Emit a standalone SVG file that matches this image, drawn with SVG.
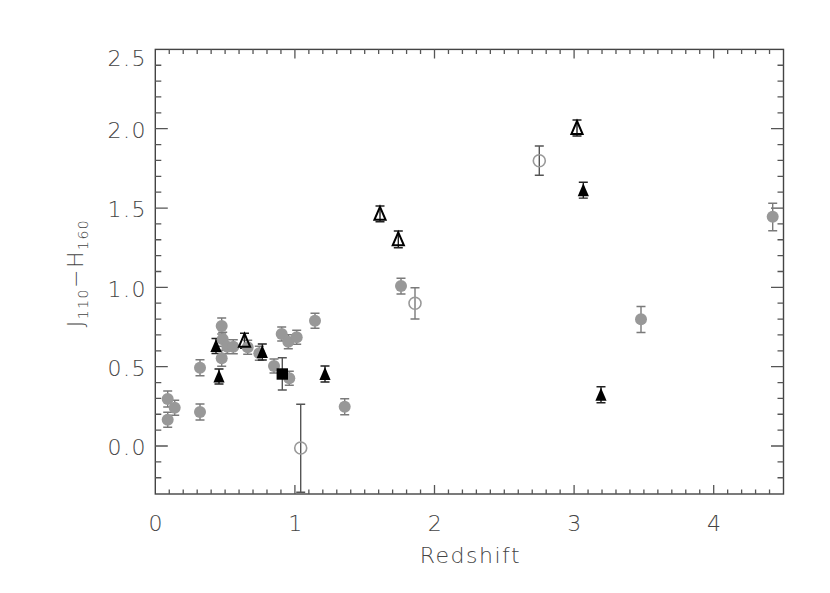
<svg xmlns="http://www.w3.org/2000/svg" width="830" height="593" viewBox="0 0 830 593">
<style>
.ax{fill:none;stroke:#444;stroke-width:1.4}
.tk{fill:none;stroke:#555;stroke-width:1.3}
.lbl{font-family:"DejaVu Sans","Liberation Sans",sans-serif;font-weight:200;font-size:22px;fill:#444;letter-spacing:1.5px}
.eg{fill:none;stroke:#7a7a7a;stroke-width:1.4}
.ek{fill:none;stroke:#222;stroke-width:1.4}
.ed{fill:none;stroke:#555;stroke-width:1.4}
.gc{fill:#989898}
.oc{fill:none;stroke:#999;stroke-width:1.6}
.bt{fill:#000}
.ot{fill:none;stroke:#000;stroke-width:2}
.sq{fill:#000}
</style>
<defs>
<path id="tri" d="M0,-7 L5.6,6 L-5.6,6 Z"/>
</defs>
<rect width="830" height="593" fill="#fff"/>
<g id="axes">
<rect class="ax" x="155.3" y="49.4" width="628.2" height="444.6"/>
<path class="tk" d="M169.26,494v-4.5M183.22,494v-4.5M197.18,494v-4.5M211.14,494v-4.5M225.1,494v-4.5M239.06,494v-4.5M253.02,494v-4.5M266.98,494v-4.5M280.94,494v-4.5M294.9,494v-9M308.86,494v-4.5M322.82,494v-4.5M336.78,494v-4.5M350.74,494v-4.5M364.7,494v-4.5M378.66,494v-4.5M392.62,494v-4.5M406.58,494v-4.5M420.54,494v-4.5M434.5,494v-9M448.46,494v-4.5M462.42,494v-4.5M476.38,494v-4.5M490.34,494v-4.5M504.3,494v-4.5M518.26,494v-4.5M532.22,494v-4.5M546.18,494v-4.5M560.14,494v-4.5M574.1,494v-9M588.06,494v-4.5M602.02,494v-4.5M615.98,494v-4.5M629.94,494v-4.5M643.9,494v-4.5M657.86,494v-4.5M671.82,494v-4.5M685.78,494v-4.5M699.74,494v-4.5M713.7,494v-9M727.66,494v-4.5M741.62,494v-4.5M755.58,494v-4.5M769.54,494v-4.5"/>
<path class="tk" d="M169.26,49.4v4.5M183.22,49.4v4.5M197.18,49.4v4.5M211.14,49.4v4.5M225.1,49.4v4.5M239.06,49.4v4.5M253.02,49.4v4.5M266.98,49.4v4.5M280.94,49.4v4.5M294.9,49.4v9M308.86,49.4v4.5M322.82,49.4v4.5M336.78,49.4v4.5M350.74,49.4v4.5M364.7,49.4v4.5M378.66,49.4v4.5M392.62,49.4v4.5M406.58,49.4v4.5M420.54,49.4v4.5M434.5,49.4v9M448.46,49.4v4.5M462.42,49.4v4.5M476.38,49.4v4.5M490.34,49.4v4.5M504.3,49.4v4.5M518.26,49.4v4.5M532.22,49.4v4.5M546.18,49.4v4.5M560.14,49.4v4.5M574.1,49.4v9M588.06,49.4v4.5M602.02,49.4v4.5M615.98,49.4v4.5M629.94,49.4v4.5M643.9,49.4v4.5M657.86,49.4v4.5M671.82,49.4v4.5M685.78,49.4v4.5M699.74,49.4v4.5M713.7,49.4v9M727.66,49.4v4.5M741.62,49.4v4.5M755.58,49.4v4.5M769.54,49.4v4.5"/>
<path class="tk" d="M155.3,477.73h6M155.3,461.87h6M155.3,446h12.5M155.3,430.14h6M155.3,414.27h6M155.3,398.41h6M155.3,382.54h6M155.3,366.68h12.5M155.3,350.81h6M155.3,334.95h6M155.3,319.08h6M155.3,303.22h6M155.3,287.35h12.5M155.3,271.49h6M155.3,255.62h6M155.3,239.76h6M155.3,223.89h6M155.3,208.03h12.5M155.3,192.16h6M155.3,176.3h6M155.3,160.43h6M155.3,144.57h6M155.3,128.7h12.5M155.3,112.84h6M155.3,96.97h6M155.3,81.11h6M155.3,65.24h6"/>
<path class="tk" d="M783.5,477.73h-6M783.5,461.87h-6M783.5,446h-12.5M783.5,430.14h-6M783.5,414.27h-6M783.5,398.41h-6M783.5,382.54h-6M783.5,366.68h-12.5M783.5,350.81h-6M783.5,334.95h-6M783.5,319.08h-6M783.5,303.22h-6M783.5,287.35h-12.5M783.5,271.49h-6M783.5,255.62h-6M783.5,239.76h-6M783.5,223.89h-6M783.5,208.03h-12.5M783.5,192.16h-6M783.5,176.3h-6M783.5,160.43h-6M783.5,144.57h-6M783.5,128.7h-12.5M783.5,112.84h-6M783.5,96.97h-6M783.5,81.11h-6M783.5,65.24h-6"/>
</g>
<g id="x-labels" class="lbl" text-anchor="middle">
<text x="156.3" y="531">0</text>
<text x="295.9" y="531">1</text>
<text x="435.5" y="531">2</text>
<text x="575.1" y="531">3</text>
<text x="714.7" y="531">4</text>
<text x="470.4" y="563">Redshift</text>
</g>
<g id="y-labels" class="lbl" text-anchor="end">
<text x="147" y="455">0.0</text>
<text x="147" y="375.5">0.5</text>
<text x="147" y="296.5">1.0</text>
<text x="147" y="217">1.5</text>
<text x="147" y="138">2.0</text>
<text x="147" y="66">2.5</text>
</g>
<g id="y-title">
<text class="lbl" transform="translate(83,273) rotate(-90)" text-anchor="middle">J<tspan font-size="14" dy="5">110</tspan><tspan dy="-5">−H</tspan><tspan font-size="14" dy="5">160</tspan></text>
</g>
<g id="error-bars">
<path class="eg" d="M167.7,391v16M163.2,391h9M163.2,407h9
M167.7,412.2v15M163.2,412.2h9M163.2,427.2h9
M174.7,400.2v15M170.2,400.2h9M170.2,415.2h9
M200,359.7v16M195.5,359.7h9M195.5,375.7h9
M200,404v16M195.5,404h9M195.5,420h9
M221.7,318v16M217.2,318h9M217.2,334h9
M222.7,332.3v14M218.2,332.3h9M218.2,346.3h9
M227.3,339.7v14M222.8,339.7h9M222.8,353.7h9
M233.3,339.7v14M228.8,339.7h9M228.8,353.7h9
M221.7,350.3v16M217.2,350.3h9M217.2,366.3h9
M247.7,340.3v14M243.2,340.3h9M243.2,354.3h9
M259.3,346.3v14M254.8,346.3h9M254.8,360.3h9
M274,359v14M269.5,359h9M269.5,373h9
M281.7,327v14M277.2,327h9M277.2,341h9
M288.3,334.7v14M283.8,334.7h9M283.8,348.7h9
M296.7,330.3v14M292.2,330.3h9M292.2,344.3h9
M289.3,371.3v14M284.8,371.3h9M284.8,385.3h9
M315,313.2v15M310.5,313.2h9M310.5,328.2h9
M344.7,398.7v16M340.2,398.7h9M340.2,414.7h9
M401,278.3v15.7M396.5,278.3h9M396.5,294h9
M641,306.5v26M636.5,306.5h9M636.5,332.5h9
M772.7,203.3v27.4M768.2,203.3h9M768.2,230.7h9
M415,287.7v31.3M410.5,287.7h9M410.5,319h9"/>
<path class="ed" d="M300.7,404.3v88M296.2,404.3h9M296.2,492.3h9
M539.3,146v29.3M534.8,146h9M534.8,175.3h9
M282.3,357.7v32.3M277.8,357.7h9M277.8,390h9"/>
<path class="ek" d="M216,338.5v15M211.5,338.5h9M211.5,353.5h9
M219,369v15M214.5,369h9M214.5,384h9
M262.3,344v16M257.8,344h9M257.8,360h9
M325,366v16M320.5,366h9M320.5,382h9
M583.3,182.3v15.8M578.8,182.3h9M578.8,198.1h9
M601,386.7v16M596.5,386.7h9M596.5,402.7h9
M244.5,333.2v15M240,333.2h9M240,348.2h9
M380,206v15.7M375.5,206h9M375.5,221.7h9
M398.3,231v16.7M393.8,231h9M393.8,247.7h9
M577,120v16M572.5,120h9M572.5,136h9"/>
</g>
<g id="grey-circles" class="gc">
<circle cx="167.7" cy="399" r="6"/>
<circle cx="167.7" cy="419.7" r="6"/>
<circle cx="174.7" cy="407.7" r="6"/>
<circle cx="200" cy="367.7" r="6"/>
<circle cx="200" cy="412" r="6"/>
<circle cx="221.7" cy="326" r="6"/>
<circle cx="222.7" cy="339.3" r="6"/>
<circle cx="227.3" cy="346.7" r="6"/>
<circle cx="233.3" cy="346.7" r="6"/>
<circle cx="221.7" cy="358.3" r="6"/>
<circle cx="247.7" cy="347.3" r="6"/>
<circle cx="259.3" cy="353.3" r="6"/>
<circle cx="274" cy="366" r="6"/>
<circle cx="281.7" cy="334" r="6"/>
<circle cx="288.3" cy="341.7" r="6"/>
<circle cx="296.7" cy="337.3" r="6"/>
<circle cx="289.3" cy="378.3" r="6"/>
<circle cx="315" cy="320.7" r="6"/>
<circle cx="344.7" cy="406.7" r="6"/>
<circle cx="401" cy="286" r="6"/>
<circle cx="641" cy="319.3" r="6"/>
<circle cx="772.7" cy="216.7" r="6"/>
</g>
<g id="open-circles" class="oc">
<circle cx="300.7" cy="448" r="6"/>
<circle cx="415" cy="303.3" r="6"/>
<circle cx="539.3" cy="160.7" r="6"/>
</g>
<g id="filled-triangles" class="bt">
<use href="#tri" x="216" y="346"/>
<use href="#tri" x="219" y="376.5"/>
<use href="#tri" x="262.3" y="352"/>
<use href="#tri" x="325" y="374"/>
<use href="#tri" x="583.3" y="190.2"/>
<use href="#tri" x="601" y="394.7"/>
</g>
<g id="open-triangles" class="ot">
<use href="#tri" x="244.5" y="340.7"/>
<use href="#tri" x="380" y="213.8"/>
<use href="#tri" x="398.3" y="239.3"/>
<use href="#tri" x="577" y="128"/>
</g>
<g id="square">
<rect class="sq" x="276.6" y="368.3" width="11.4" height="11.4"/>
</g>
</svg>
